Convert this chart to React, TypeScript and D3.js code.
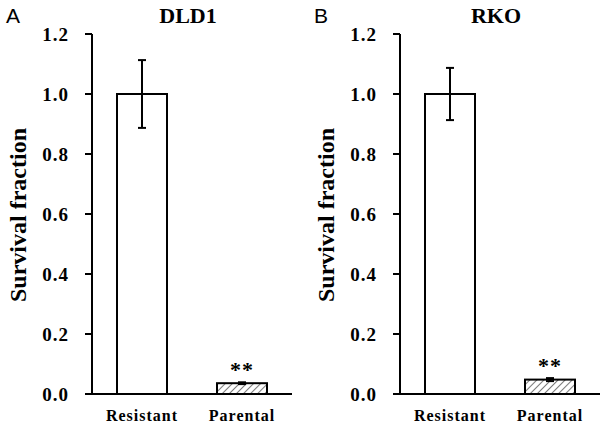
import React from "react";
import * as d3 from "d3";

const categories = ["Resistant", "Parental"];
const panelLetters = ["A", "B"];
const panelTitles = ["DLD1", "RKO"];
const dld1Values = [1.0, 0.036];
const dld1Errors = [0.113, 0.003];
const rkoValues = [1.0, 0.048];
const rkoErrors = [0.087, 0.005];
const yTicks = [0, 0.2, 0.4, 0.6, 0.8, 1.0, 1.2];
const significance = ["", "**"];

const serif = "'Liberation Serif', 'Times New Roman', serif";
const sans = "'Liberation Sans', Arial, sans-serif";

type PanelProps = {
  ox: number;
  letter: string;
  title: string;
  values: number[];
  errors: number[];
  id: string;
};

function Panel({ ox, letter, title, values, errors, id }: PanelProps) {
  const left = 92;
  const width = 200;
  const y = d3.scaleLinear().domain([0, 1.2]).range([394, 34]);
  const x = d3.scaleBand<string>().domain(categories).range([left, left + width]).paddingInner(0.5).paddingOuter(0.25);
  const bw = x.bandwidth();
  return (
    <g transform={`translate(${ox},0)`}>
      <defs>
        <pattern id={id} patternUnits="userSpaceOnUse" width={5} height={5} patternTransform="rotate(45)">
          <line x1={0} y1={0} x2={0} y2={5} stroke="#333" strokeWidth={1.3} />
        </pattern>
      </defs>
      <text x={6} y={23} fontFamily={sans} fontSize={21} fill="#000">{letter}</text>
      <text x={left + width / 2 - 4} y={23} textAnchor="middle" fontFamily={serif} fontWeight="bold" fontSize={22} fill="#000">{title}</text>
      <text transform={`translate(${26},${215}) rotate(-90)`} textAnchor="middle" fontFamily={serif} fontWeight="bold" fontSize={24} fill="#000">Survival fraction</text>
      {yTicks.map((t) => (
        <g key={t}>
          <line x1={left - 7} x2={left} y1={y(t)} y2={y(t)} stroke="#000" strokeWidth={2} />
          <text x={left - 23} y={y(t) + 6.5} textAnchor="end" fontFamily={serif} fontWeight="bold" fontSize={19} letterSpacing={1} fill="#000">{t.toFixed(1)}</text>
        </g>
      ))}
      {categories.map((c, i) => {
        const bx = x(c)!;
        const cx = bx + bw / 2;
        const top = y(values[i]);
        return (
          <g key={c}>
            <rect x={bx} y={top} width={bw} height={y(0) - top} fill={i === 1 ? `url(#${id})` : "#fff"} stroke="#000" strokeWidth={2} />
            <line x1={cx} x2={cx} y1={y(values[i] + errors[i])} y2={y(values[i] - errors[i])} stroke="#000" strokeWidth={2} />
            <line x1={cx - 4} x2={cx + 4} y1={y(values[i] + errors[i])} y2={y(values[i] + errors[i])} stroke="#000" strokeWidth={2} />
            <line x1={cx - 4} x2={cx + 4} y1={y(values[i] - errors[i])} y2={y(values[i] - errors[i])} stroke="#000" strokeWidth={2} />
            {significance[i] && (
              <text x={cx} y={y(values[i] + errors[i]) - 5} textAnchor="middle" fontFamily={serif} fontWeight="bold" fontSize={22} letterSpacing={1} fill="#000">{significance[i]}</text>
            )}
            <text x={cx} y={421} textAnchor="middle" fontFamily={serif} fontWeight="bold" fontSize={16} letterSpacing={1} fill="#000">{c}</text>
          </g>
        );
      })}
      <line x1={left} x2={left} y1={y(1.2)} y2={y(0)} stroke="#000" strokeWidth={2} />
      <line x1={left - 7} x2={left + width} y1={y(0)} y2={y(0)} stroke="#000" strokeWidth={2} />
    </g>
  );
}

export default function App() {
  return (
    <svg width={604} height={425} style={{ position: "absolute", left: 0, top: 0, background: "#fff" }}>
      <rect width={604} height={425} fill="#fff" />
      <Panel ox={0} letter={panelLetters[0]} title={panelTitles[0]} values={dld1Values} errors={dld1Errors} id="hatchA" />
      <Panel ox={308} letter={panelLetters[1]} title={panelTitles[1]} values={rkoValues} errors={rkoErrors} id="hatchB" />
    </svg>
  );
}
